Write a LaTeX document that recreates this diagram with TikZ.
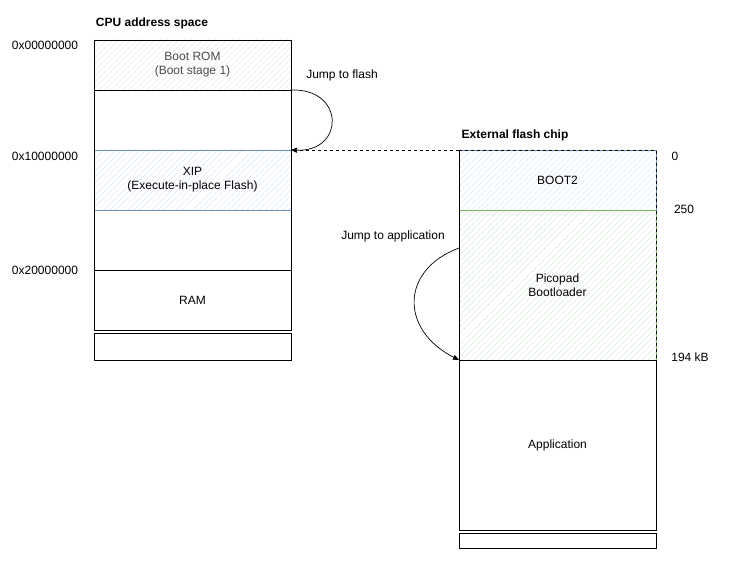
\documentclass[tikz,border=0pt]{standalone}
\usepackage{fontspec}
\setmainfont{Liberation Sans}
\usetikzlibrary{patterns.meta,arrows.meta}
\definecolor{bstroke}{HTML}{6C8EBF}
\definecolor{bfill}{HTML}{D0E0F8}
\definecolor{gstroke}{HTML}{82B366}
\definecolor{gfill}{HTML}{CDE4CB}
\definecolor{rfill}{HTML}{E2E2E2}
\begin{document}
\begin{tikzpicture}[x=1pt,y=-1pt,
  font=\fontsize{12}{14}\selectfont,
  blk/.style={draw=black,line width=0.9pt},
  romblk/.style={draw=black!70,line width=0.9pt,pattern={Lines[angle=45,distance=4pt,line width=0.5pt]},pattern color=rfill},
  xipblk/.style={draw=bstroke,line width=0.9pt,pattern={Lines[angle=45,distance=4pt,line width=0.6pt]},pattern color=bfill},
  grnblk/.style={draw=gstroke,line width=0.9pt,pattern={Lines[angle=45,distance=4pt,line width=0.6pt]},pattern color=gfill},
  lbl/.style={inner sep=0pt,align=center},
  arr/.style={-{Triangle[length=6pt,width=5pt]},line width=0.7pt}]
\useasboundingbox (0,0) rectangle (751,561);
% CPU address space
\node[lbl,font=\fontsize{12}{14}\selectfont\bfseries] (cputitle) at (152,23) {CPU address space};
\fill[white] (94,40) rectangle (291,330);
\path[romblk] (94,40) rectangle (291,90);
\path[xipblk] (94,150) rectangle (291,210);
\draw[blk] (94,40) -- (94,330) (291,40) -- (291,330) (94,40) -- (291,40);
\draw[blk] (94,90) -- (291,90);
\draw[blk] (94,270) rectangle (291,330);
\draw[blk] (94,333) rectangle (291,360);
\node[lbl,text=black!70] (rom) at (192.5,65) {Boot ROM\\(Boot stage 1)};
\node[lbl] (xip) at (192.5,180) {XIP\\(Execute-in-place Flash)};
\node[lbl] (ram) at (192.5,300) {RAM};
\coordinate (romout) at (291,90);
\coordinate (xipin) at (291,150);
\node[lbl] (a0) at (45,45) {0x00000000};
\node[lbl] (a1) at (45,156) {0x10000000};
\node[lbl] (a2) at (45,270) {0x20000000};
% External flash
\node[lbl,font=\fontsize{12}{14}\selectfont\bfseries] (flashtitle) at (515,135) {External flash chip};
\path[xipblk] (459,150) rectangle (656,210);
\path[grnblk] (459,210) rectangle (656,360);
\draw[blk,dashed,line width=0.7pt] (459,150) -- (656,150) -- (656,360);
\draw[blk] (459,150) -- (459,360);
\draw[blk] (459,360) rectangle (656,530);
\draw[blk] (459,533) rectangle (656,548);
\node[lbl] (boot2) at (557.5,180) {BOOT2};
\node[lbl] (pico) at (557.5,285) {Picopad\\Bootloader};
\node[lbl] (app) at (557.5,445) {Application};
\coordinate (flashtop) at (459,150);
\coordinate (pbl) at (459,248);
\coordinate (appin) at (459,360);
\node[lbl] (o0) at (675,156) {0};
\node[lbl] (o1) at (684,209) {250};
\node[lbl] (o2) at (690,357) {194 kB};
% Arrows
\draw[arr] (romout) .. controls (345,88) and (345,152) .. (xipin);
\node[lbl] (jf) at (342,75) {Jump to flash};
\draw[dashed,line width=0.7pt] (flashtop) -- (xipin);
\draw[arr] (pbl) .. controls (400,270) and (400,330) .. (appin);
\node[lbl] (ja) at (393,236) {Jump to application};
\end{tikzpicture}
\end{document}
